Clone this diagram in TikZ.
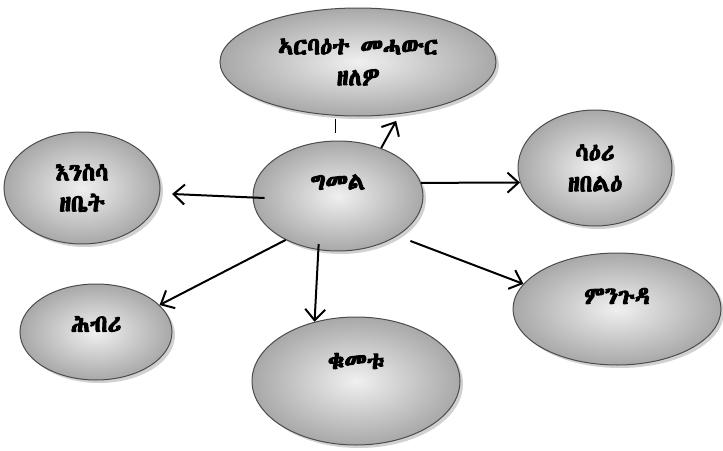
\documentclass[tikz,border=0pt]{standalone}
\usepackage{fontspec}
\newfontfamily\ethfont[Script=Ethiopic,FakeBold=4]{Abyssinica SIL}
\usetikzlibrary{shapes.geometric,shadows,arrows.meta}
\tikzset{font=\ethfont\fontsize{24}{31}\selectfont}
\tikzset{bubble/.style={ellipse,draw=gray!60!black,line width=1pt,inner sep=0pt,
    align=center,shade,inner color=gray!12,outer color=gray!68,
    drop shadow={shadow xshift=3pt,shadow yshift=-3pt,fill=gray!45,opacity=0.8}},
  link/.style={line width=2pt,-{Straight Barb[length=11pt,width=20pt,line width=2pt]}}}

\begin{document}
\begin{tikzpicture}[x=1pt,y=-1pt]
    \useasboundingbox (0,0) rectangle (723,450);
    \node[bubble,minimum width=276pt,minimum height=108pt] (four_legs) at (358,62) {ኣርባዕተ መሓውር\\ዘለዎ};
    \node[bubble,minimum width=156pt,minimum height=112pt] (domestic) at (82,188) {እንስሳ\\ዘቤት};
    \node[bubble,minimum width=170pt,minimum height=110pt,text depth=28pt] (camel) at (338,196) {ግመል};
    \node[bubble,minimum width=154pt,minimum height=116pt] (herbivore) at (595,168) {ሳዕሪ\\ዘበልዕ};
    \node[bubble,minimum width=152pt,minimum height=96pt,text depth=16pt] (colour) at (96,332) {ሕብሪ};
    \node[bubble,minimum width=208pt,minimum height=128pt,text depth=40pt] (height) at (356,381) {ቁመቱ};
    \node[bubble,minimum width=208pt,minimum height=112pt,text depth=26pt] (hump) at (617,309) {ምንጉዳ};

    \coordinate (tick) at (335,119);
    \draw[line width=1pt] (tick) -- ++(0,14);

    \draw[link,shorten >=8pt] (camel.48) -- (four_legs.-51);
    \draw[link,shorten <=-12pt,shorten >=12pt] (camel.181) -- (domestic.-4);
    \draw[link] (camel.9) -- (herbivore.191);
    \draw[link] (camel.220) -- (colour.23);
    \draw[link,shorten <=-6pt] (camel.250) -- (height.125);
    \draw[link,shorten <=14pt] (camel.-34) -- (hump.165);
\end{tikzpicture}
\end{document}
